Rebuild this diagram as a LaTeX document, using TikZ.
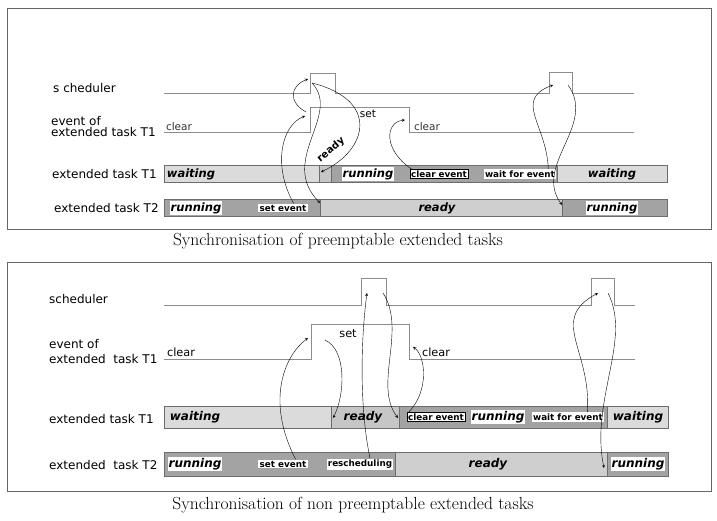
\documentclass[tikz,border=0pt]{standalone}
\usepackage{fontspec}
\setsansfont{DejaVu Sans}

\begin{document}
\begin{tikzpicture}[x=1pt,y=-1pt,
  frame/.style={draw=gray!80!black, line width=0.9pt},
  sig/.style={draw=gray!90, line width=0.7pt},
  bar/.style={draw=gray!85!black, line width=0.9pt},
  waitseg/.style={bar, fill=gray!28},
  readyseg/.style={bar, fill=gray!45},
  runseg/.style={bar, fill=gray!72},
  rowlbl/.style={anchor=west, align=left, inner sep=0pt, font=\sffamily\fontsize{12}{11}\selectfont},
  statelbl/.style={inner sep=1pt, font=\sffamily\bfseries\itshape\fontsize{11.5}{13}\selectfont},
  boxlbl/.style={statelbl, fill=white},
  evlbl/.style={fill=white, inner sep=1.2pt, font=\sffamily\bfseries\fontsize{8.8}{10}\selectfont},
  sigtxt/.style={inner sep=0pt, font=\sffamily\fontsize{10.5}{12}\selectfont},
  arr/.style={->, >=stealth, thin, black},
  caption/.style={font=\rmfamily\fontsize{17.5}{20}\selectfont}
]
\useasboundingbox (0,0) rectangle (717,520);

  % First diagram (preemptable)
  \begin{scope}
    \draw[frame] (7,8) rectangle (711,229);
    \node[rowlbl] (lblSchA) at (53,88) {s cheduler};
    \node[rowlbl] (lblEvA) at (51,127) {event of\\extended task T1};
    \node[rowlbl] (lblT1A) at (52,174) {extended task T1};
    \node[rowlbl] (lblT2A) at (54,208) {extended task T2};

    % scheduler and event signals
    \draw[sig] (164,93) -- (310,93) -- (310,73) -- (335,73) -- (335,93) -- (549,93)
      -- (549,72) -- (572,72) -- (572,93) -- (634,93);
    \draw[sig] (164,132) -- (310,132) -- (310,107) -- (409,107) -- (409,132) -- (634,132);
    \node[sigtxt, gray!40!black] (clr1A) at (179,127) {clear};
    \node[sigtxt] (setA) at (368,114) {set};
    \node[sigtxt, gray!40!black] (clr2A) at (427,127) {clear};

    % task T1
    \draw[waitseg] (164,165) rectangle (319,182);
    \draw[readyseg] (319,165) rectangle (331,182);
    \draw[runseg] (331,165) rectangle (557,182);
    \draw[waitseg] (557,165) rectangle (667,182);
    \node[statelbl] (w1A) at (191,174) {waiting};
    \node[boxlbl] (r1A) at (368,174) {running};
    \node[evlbl, draw=black, line width=0.5pt] (ceA) at (439,174) {clear event};
    \node[evlbl] (wfeA) at (520,174) {wait for event};
    \node[statelbl] (w2A) at (612,174) {waiting};

    % task T2
    \draw[runseg] (164,199) rectangle (320,216);
    \draw[readyseg, fill=gray!38] (320,199) rectangle (562,216);
    \draw[runseg] (562,199) rectangle (667,216);
    \node[boxlbl] (r2A) at (196,208) {running};
    \node[evlbl] (setevA) at (283,208) {set event};
    \node[statelbl] (rdy2A) at (437,208) {ready};
    \node[boxlbl] (r3A) at (612,208) {running};

    % arrows
    \coordinate (riseA) at (305,116);
    \coordinate (evTopA) at (306,112);
    \coordinate (p1inA) at (308,79);
    \coordinate (p1outA) at (312,83);
    \coordinate (t2rdyA) at (320,203);
    \coordinate (t1rdyA) at (321,172);
    \coordinate (fallA) at (405,120);
    \coordinate (p2inA) at (553,85);
    \coordinate (p2outA) at (568,85);
    \coordinate (t2runA) at (562,205);
    \draw[arr] ([xshift=-14pt]setevA.north east) .. controls (272,165) and (282,125) .. (riseA);
    \draw[arr] (evTopA) .. controls (288,102) and (290,86) .. (p1inA);
    \draw[arr] (p1outA) .. controls (342,115) and (278,160) .. (t2rdyA);
    \draw[arr] (p1outA) .. controls (380,100) and (368,150) .. (t1rdyA);
    \node[sigtxt, font=\sffamily\bfseries\fontsize{10}{12}\selectfont, rotate=40] (rdyA) at (331,150) {ready};
    \draw[arr] ([xshift=2pt]ceA.north west) .. controls (383,150) and (385,122) .. (fallA);
    \draw[arr] ([xshift=-8pt]wfeA.north east) .. controls (547,125) and (513,100) .. (p2inA);
    \draw[arr] (p2outA) .. controls (597,125) and (533,165) .. (t2runA);

    \node[caption] (capA) at (338,241) {Synchronisation of preemptable extended tasks};
  \end{scope}

  % Second diagram (non preemptable)
  \begin{scope}
    \draw[frame] (7,262) rectangle (711,491);
    \node[rowlbl] (lblSchB) at (49,299) {scheduler};
    \node[rowlbl, font=\sffamily\fontsize{12}{15}\selectfont] (lblEvB) at (49,352) {event of\\extended~ task T1};
    \node[rowlbl] (lblT1B) at (49,419) {extended task T1};
    \node[rowlbl] (lblT2B) at (49,465) {extended~ task T2};

    % scheduler and event signals
    \draw[sig] (164,305) -- (361,305) -- (361,278) -- (386,278) -- (386,305) -- (591,305)
      -- (591,278) -- (614,278) -- (614,305) -- (635,305);
    \draw[sig] (164,359) -- (311,359) -- (311,324) -- (409,324) -- (409,359) -- (635,359);
    \node[sigtxt, font=\sffamily\fontsize{11.3}{13}\selectfont] (clr1B) at (181,352) {clear};
    \node[sigtxt, font=\sffamily\fontsize{11.3}{13}\selectfont] (setB) at (348,334) {set};
    \node[sigtxt, font=\sffamily\fontsize{11.3}{13}\selectfont] (clr2B) at (436,352) {clear};

    % task T1
    \draw[waitseg] (164,406) rectangle (331,428);
    \draw[readyseg] (331,406) rectangle (399,428);
    \draw[runseg] (399,406) rectangle (607,428);
    \draw[waitseg] (607,406) rectangle (668,428);
    \node[statelbl, font=\sffamily\bfseries\itshape\fontsize{12}{13}\selectfont] (w1B) at (195,417) {waiting};
    \node[statelbl, font=\sffamily\bfseries\itshape\fontsize{12}{13}\selectfont] (rdy1B) at (363,417) {ready};
    \node[evlbl, draw=black, line width=0.5pt] (ceB) at (436,417) {clear event};
    \node[boxlbl, font=\sffamily\bfseries\itshape\fontsize{12}{13}\selectfont] (r1B) at (498,417) {running};
    \node[evlbl] (wfeB) at (568,417) {wait for event};
    \node[statelbl, font=\sffamily\bfseries\itshape\fontsize{12}{13}\selectfont] (w2B) at (638,417) {waiting};

    % task T2
    \draw[runseg] (164,452) rectangle (395,476);
    \draw[readyseg, fill=gray!38] (395,452) rectangle (607,476);
    \draw[runseg] (607,452) rectangle (668,476);
    \node[boxlbl, font=\sffamily\bfseries\itshape\fontsize{12}{13}\selectfont] (r2B) at (195,464) {running};
    \node[evlbl] (setevB) at (283,464) {set event};
    \node[evlbl] (reschB) at (360,464) {rescheduling};
    \node[statelbl, font=\sffamily\bfseries\itshape\fontsize{12}{13}\selectfont] (rdy2B) at (488,464) {ready};
    \node[boxlbl, font=\sffamily\bfseries\itshape\fontsize{12}{13}\selectfont] (r3B) at (638,464) {running};

    % arrows
    \coordinate (riseB) at (308,338);
    \coordinate (setOutB) at (325,340);
    \coordinate (t1rdyB) at (333,418);
    \coordinate (p1inB) at (367,293);
    \coordinate (p1outB) at (383,293);
    \coordinate (t1runB) at (398,418);
    \coordinate (fallB) at (413,347);
    \coordinate (p2inB) at (598,293);
    \coordinate (p2outB) at (608,293);
    \coordinate (t2runB) at (604,468);
    \draw[arr] ([xshift=-12pt]setevB.north east) .. controls (265,400) and (285,355) .. (riseB);
    \draw[arr] (setOutB) .. controls (347,350) and (345,395) .. (t1rdyB);
    \draw[arr] ([xshift=10pt]reschB.north) .. controls (358,400) and (362,330) .. (p1inB);
    \draw[arr] (p1outB) .. controls (407,330) and (373,385) .. (t1runB);
    \draw[arr] ([xshift=2pt]ceB.north west) .. controls (430,390) and (425,355) .. (fallB);
    \draw[arr] ([xshift=-17pt]wfeB.north east) .. controls (592,350) and (548,320) .. (p2inB);
    \draw[arr] (p2outB) .. controls (632,340) and (590,400) .. (t2runB);

    \node[caption] (capB) at (353,505) {Synchronisation of non preemptable extended tasks};
  \end{scope}

\end{tikzpicture}
\end{document}
